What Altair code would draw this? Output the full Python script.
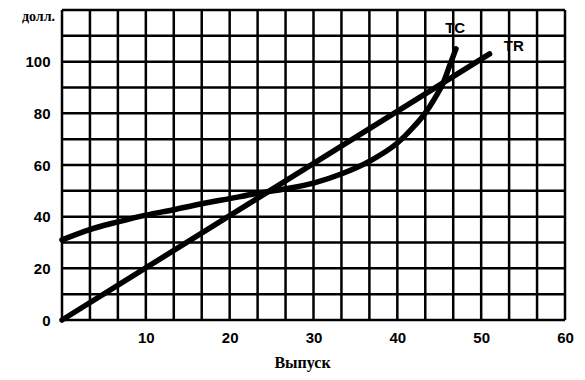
import altair as alt
import pandas as pd

# Data
tc_x = [0, 3.3, 6.7, 10, 13.3, 16.7, 20, 23.3, 26.7, 30, 33.3, 36.7, 40, 42, 43.3, 44.5, 45.5, 46.3, 47]
tc_y = [31, 35, 38, 40.6, 42.7, 45, 47, 49, 50.8, 53, 56.5, 61.5, 68.5, 75, 80, 86, 92, 99, 105]
tr_x = [0, 51]
tr_y = [0, 103]

x_grid = [i * 10 / 3 for i in range(19)]
y_grid = list(range(0, 121, 10))
x_ticks = [10, 20, 30, 40, 50, 60]
y_ticks = [0, 20, 40, 60, 80, 100]

labels = ["TC", "TR"]
label_x = [46.9, 53.9]
label_y = [113, 106]

tc = pd.DataFrame({"x": tc_x, "y": tc_y})
tr = pd.DataFrame({"x": tr_x, "y": tr_y})
lab = pd.DataFrame({"t": labels, "x": label_x, "y": label_y})
gx = pd.DataFrame({"x": x_grid})
gy = pd.DataFrame({"y": y_grid})

xs = alt.Scale(domain=[0, 60], nice=False, zero=False)
ys = alt.Scale(domain=[0, 120], nice=False, zero=False)

xaxis = alt.Axis(
    values=x_ticks, format="d",
    grid=False, ticks=False, domain=False,
    labelFont="Liberation Sans", labelFontWeight="bold", labelFontSize=15,
    labelColor="black", labelPadding=10, labelFlush=False,
    title="Выпуск", titleFont="Liberation Serif", titleFontWeight="bold",
    titleFontSize=16, titleColor="black", titlePadding=9, titleX=240,
)
yaxis = alt.Axis(
    values=y_ticks, format="d",
    grid=False, ticks=False, domain=False,
    labelFont="Liberation Sans", labelFontWeight="bold", labelFontSize=15,
    labelColor="black", labelPadding=12, labelFlush=False,
    title=None,
)

vgrid = alt.Chart(gx).mark_rule(color="black", strokeWidth=2.5).encode(
    x=alt.X("x:Q", scale=xs, axis=xaxis)
)
hgrid = alt.Chart(gy).mark_rule(color="black", strokeWidth=2.5).encode(
    y=alt.Y("y:Q", scale=ys, axis=yaxis)
)

line_tc = alt.Chart(tc).mark_line(
    color="black", strokeWidth=5.5, strokeCap="round", interpolate="monotone"
).encode(
    x=alt.X("x:Q", scale=xs),
    y=alt.Y("y:Q", scale=ys),
)

line_tr = alt.Chart(tr).mark_line(
    color="black", strokeWidth=5.5, strokeCap="round"
).encode(
    x=alt.X("x:Q", scale=xs),
    y=alt.Y("y:Q", scale=ys),
)

text = alt.Chart(lab).mark_text(
    font="Liberation Sans", fontWeight="bold", fontSize=15, color="black"
).encode(
    x=alt.X("x:Q", scale=xs),
    y=alt.Y("y:Q", scale=ys),
    text="t:N",
)

unit = alt.Chart(pd.DataFrame({"t": ["долл."]})).mark_text(
    font="Liberation Serif", fontWeight="bold", fontSize=14, color="black", align="right"
).encode(
    x=alt.value(-7),
    y=alt.value(7),
    text="t:N",
)

chart = alt.layer(vgrid, hgrid, line_tc, line_tr, text, unit).properties(
    width=503, height=310,
    autosize=alt.AutoSizeParams(type="none"),
    padding={"left": 54, "top": 2, "right": 12, "bottom": 52},
).configure_view(
    stroke="black", strokeWidth=3
).configure(background="white")

chart.save("out.html", embed_options={"renderer": "svg", "actions": False})
